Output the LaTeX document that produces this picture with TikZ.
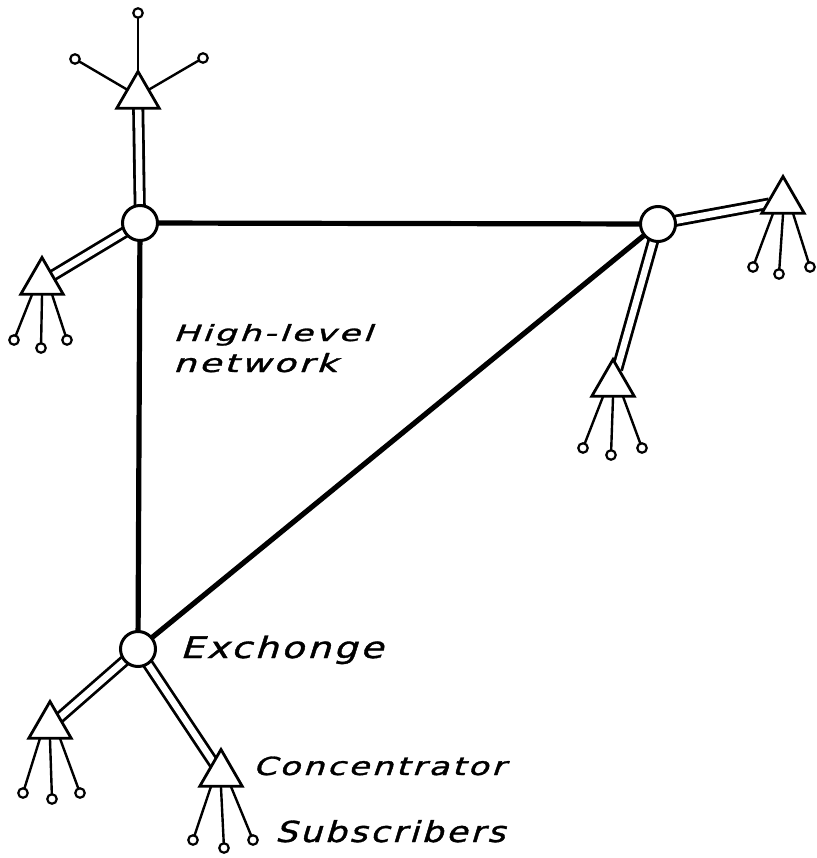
\documentclass[tikz,border=0pt]{standalone}
\usepackage{fontspec}
\usepackage{graphicx}
\newfontfamily\lett[FakeSlant=0.25,FakeBold=1.2,LetterSpace=8]{DejaVu Sans}
\usetikzlibrary{shapes.geometric,calc}
\newcommand\fitlbl[3]{\resizebox{#1}{#2}{\lett #3}}
\pgfdeclarelayer{back}
\pgfdeclarelayer{wires}
\pgfsetlayers{back,wires,main}
\begin{document}
\begin{tikzpicture}[x=1pt,y=-1pt,
 exch/.style={circle,draw,line width=3pt,fill=white,minimum size=35pt,inner sep=0pt},
 conc/.style={regular polygon,regular polygon sides=3,draw,line width=2.8pt,fill=white,minimum size=49pt,inner sep=0pt},
 subs/.style={circle,draw,line width=2.2pt,fill=white,minimum size=9.5pt,inner sep=0pt},
 trunk/.style={line width=5.2pt,shorten <=-3pt,shorten >=-3pt},
 link/.style={draw,line width=2.8pt,double=white,double distance=6.5pt,shorten <=-4pt,shorten >=-4pt},
 sline/.style={line width=2.4pt,shorten <=-2pt,shorten >=-3pt},
 lbl/.style={anchor=base west,inner sep=0pt,outer sep=0pt}]
\begin{pgfonlayer}{back}
\fill[white] (0,0) rectangle (816,858);
\end{pgfonlayer}
\useasboundingbox (0,0) rectangle (816,858);

% exchanges
\node[exch] (e1) at (140,223) {};
\node[exch] (e2) at (658,224) {};
\node[exch] (e3) at (138,649) {};

% concentrators
\node[conc] (t1) at (138,96) {};
\node[conc] (t2) at (42,282) {};
\node[conc] (t3) at (783,201) {};
\node[conc] (t4) at (613,384) {};
\node[conc] (t5) at (50,726) {};
\node[conc] (t6) at (221,774) {};

% subscribers
\node[subs] (s1a) at (75,59) {};
\node[subs] (s1b) at (138,13) {};
\node[subs] (s1c) at (203,58) {};
\node[subs] (s2a) at (14,340) {};
\node[subs] (s2b) at (41,348) {};
\node[subs] (s2c) at (67,340) {};
\node[subs] (s3a) at (753,267) {};
\node[subs] (s3b) at (779,274) {};
\node[subs] (s3c) at (810,267) {};
\node[subs] (s4a) at (583,448) {};
\node[subs] (s4b) at (611,455) {};
\node[subs] (s4c) at (642,448) {};
\node[subs] (s5a) at (23,793) {};
\node[subs] (s5b) at (52,799) {};
\node[subs] (s5c) at (80,793) {};
\node[subs] (s6a) at (193,840) {};
\node[subs] (s6b) at (224,848) {};
\node[subs] (s6c) at (253,840) {};

% base points of concentrators
\foreach \t in {t2,t3,t4,t5,t6}{
  \coordinate (\t-l) at ($(\t.corner 2)!0.28!(\t.corner 3)$);
  \coordinate (\t-m) at ($(\t.corner 2)!0.5!(\t.corner 3)$);
  \coordinate (\t-r) at ($(\t.corner 2)!0.72!(\t.corner 3)$);
}

\begin{pgfonlayer}{wires}
% high-level network
\draw[trunk] (e1) -- (e2);
\draw[trunk] (e1) -- (e3);
\draw[trunk] (e2) -- (e3);
% exchange to concentrator links
\draw[link] (t1) -- (e1);
\draw[link] (t2) -- (e1);
\draw[link] (t3) -- (e2);
\draw[link] (t4) -- (e2);
\draw[link] (t5) -- (e3);
\draw[link] (t6) -- (e3);
% subscriber lines
\draw[sline] (s1a) -- (t1);
\draw[sline] (s1b) -- (t1);
\draw[sline] (s1c) -- (t1);
\foreach \t/\s in {t2/s2,t3/s3,t4/s4,t5/s5,t6/s6}{
  \draw[sline] (\s a) -- (\t-l);
  \draw[sline] (\s b) -- (\t-m);
  \draw[sline] (\s c) -- (\t-r);
}
\end{pgfonlayer}

% labels
\node[lbl] (hl) at (173,341) {\fitlbl{199pt}{17pt}{High-level}};
\node[lbl] (nw) at (173,372) {\fitlbl{164pt}{19pt}{network}};
\node[lbl] (ex) at (180,658) {\fitlbl{203pt}{22.5pt}{Exchonge}};
\node[lbl] (co) at (253,775) {\fitlbl{252pt}{18.5pt}{Concentrator}};
\node[lbl] (su) at (275,842) {\fitlbl{230pt}{22pt}{Subscribers}};
\end{tikzpicture}
\end{document}
